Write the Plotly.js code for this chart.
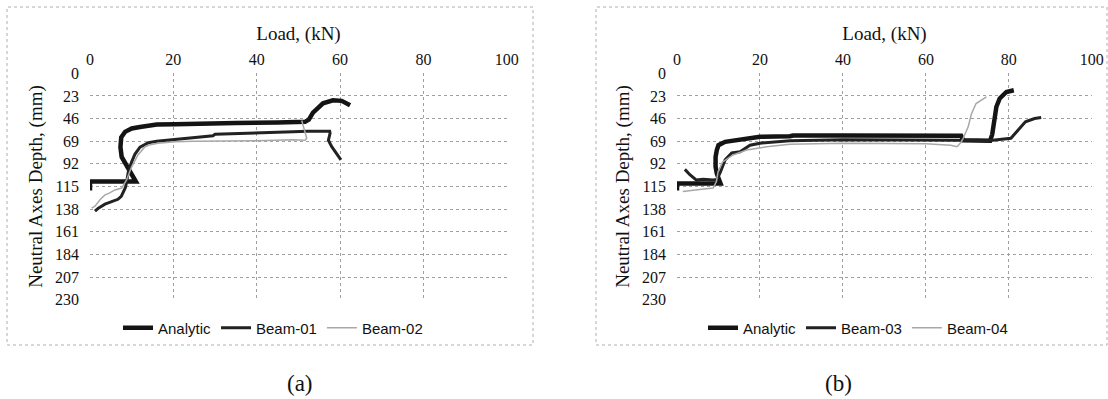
<!DOCTYPE html>
<html>
<head>
<meta charset="utf-8">
<script src="https://cdn.plot.ly/plotly-3.0.1.min.js"></script>
<style>html,body{margin:0;padding:0;background:#fff;}#chart{width:1108px;height:399px;}</style>
</head>
<body>
<div id="chart"></div>
<script>
// ---- data ----
const loadTicks = [0, 20, 40, 60, 80, 100];
const depthTicks = [0, 23, 46, 69, 92, 115, 138, 161, 184, 207, 230];

// panel (a)
const analyticA_load  = [0, 0, 11, 9.2, 8.4, 7.6, 7.3, 7.5, 8.4, 10, 12, 13.2, 13.9, 16, 20.4, 25, 35, 45, 50, 51.6, 52.5, 53.5, 55.9, 58.3, 60.4, 62.4];
const analyticA_depth = [119, 110, 110, 96, 92, 85, 75, 65, 59.5, 56, 54.5, 54, 52.7, 52, 51.7, 51, 50.5, 50, 49.5, 49.3, 47, 40, 30.5, 27.5, 28, 32.5];
const beam01_load  = [1.2, 2, 3.6, 5, 6.7, 7.5, 7.9, 8.5, 8.8, 9.2, 10, 10.8, 12, 13.2, 14, 16, 17.2, 20.4, 25.2, 29.5, 30, 35, 40.8, 45, 48.7, 52, 57.5, 57.6, 57.2, 58, 59.7, 60.2];
const beam01_depth = [140, 137, 133, 131, 128, 125, 122, 116, 110, 100, 90, 82, 75, 72, 70.5, 69, 68.5, 67, 65, 63.5, 62, 61.5, 60.5, 60, 59.5, 59, 59, 61, 68, 74.6, 85, 88];
const beam02_load  = [0.4, 1.2, 2.5, 3.6, 4.5, 6, 7.6, 8.8, 10, 11.5, 13.2, 14.5, 16.3, 20.4, 25, 32.8, 40, 48.7, 51.6, 52, 51.5, 51, 50.8];
const beam02_depth = [137, 135, 128, 123.5, 122, 118.5, 116.6, 108, 95, 83, 74.6, 72.5, 71, 69.5, 69, 69, 68.5, 67.5, 68, 66, 58, 52, 48];

// panel (b)
const analyticB_load  = [0, 0, 10.5, 9.6, 9.3, 9.3, 9.6, 10, 11.6, 14.4, 16.8, 20, 27.2, 28, 40, 55, 68.5, 69, 75.5, 76, 76.6, 77, 77.8, 79.4, 81.2];
const analyticB_depth = [119, 112, 112, 102, 95, 85, 78, 73, 69.6, 68, 66, 64.5, 64, 63.2, 63.2, 63.2, 63.5, 68, 68.5, 62, 47.6, 34, 25.6, 19, 17.2];
const beam03_load  = [1.9, 3.1, 4.7, 6.3, 8.7, 9.6, 10.4, 11.6, 13.2, 15.2, 16.4, 17.6, 20, 27.2, 40, 60, 68, 75, 80.5, 82.2, 84, 86.2, 87.8];
const beam03_depth = [97.6, 103, 108.5, 107.7, 108.5, 108, 101, 88, 81, 79.7, 76.3, 73, 71, 68.5, 67.5, 67.5, 68, 68.5, 66, 57.8, 49.3, 46, 45];
const beam04_load  = [1.4, 3, 4.7, 6.5, 8.7, 9.5, 9.9, 11, 13.5, 16.8, 21.6, 27.2, 40, 50, 60, 66, 67.5, 68.5, 69, 70.2, 71, 72.1, 73.5, 74.6];
const beam04_depth = [120, 119, 118.5, 117.5, 116.6, 110, 100, 90, 83, 78, 74.6, 72, 71, 71, 71.5, 73, 74.6, 70, 66, 54.4, 41, 30.7, 27, 24];

const seriesNames = ['Analytic', 'Beam-01', 'Beam-02', 'Beam-03', 'Beam-04'];

// ---- layout helpers (pixel -> paper) ----
const W = 1108, H = 399;
const px = v => v / W;
const py = v => 1 - v / H;

const black = '#141414', dark = '#222222', grey = '#a8a8a8';

const traces = [
  {x: analyticA_load, y: analyticA_depth, name: seriesNames[0], mode: 'lines', line: {color: black, width: 4.5}, xaxis: 'x', yaxis: 'y', legend: 'legend'},
  {x: beam01_load, y: beam01_depth, name: seriesNames[1], mode: 'lines', line: {color: dark, width: 3}, xaxis: 'x', yaxis: 'y', legend: 'legend'},
  {x: beam02_load, y: beam02_depth, name: seriesNames[2], mode: 'lines', line: {color: grey, width: 1.5}, xaxis: 'x', yaxis: 'y', legend: 'legend'},
  {x: analyticB_load, y: analyticB_depth, name: seriesNames[0], mode: 'lines', line: {color: black, width: 4.5}, xaxis: 'x2', yaxis: 'y2', legend: 'legend2'},
  {x: beam03_load, y: beam03_depth, name: seriesNames[3], mode: 'lines', line: {color: dark, width: 3}, xaxis: 'x2', yaxis: 'y2', legend: 'legend2'},
  {x: beam04_load, y: beam04_depth, name: seriesNames[4], mode: 'lines', line: {color: grey, width: 1.5}, xaxis: 'x2', yaxis: 'y2', legend: 'legend2'}
];

const serif = 'Liberation Serif, Times New Roman, serif';
const tickFont = {family: serif, size: 16, color: '#111'};
const titleFont = {family: serif, size: 19, color: '#111'};

function xAxis(dom, anchor) {
  return {
    domain: dom, anchor: anchor, side: 'top', range: [0, 100.05],
    tickmode: 'array', tickvals: loadTicks, ticktext: loadTicks.map(String),
    showgrid: true, gridcolor: '#a0a0a0', griddash: 'dot', gridwidth: 1,
    zeroline: false, showline: false, ticks: '', tickfont: tickFont,
    ticklabelstandoff: 4,
    title: {text: 'Load, (kN)', font: titleFont, standoff: 5},
    fixedrange: true
  };
}
function yAxis(anchor) {
  return {
    domain: [py(300), py(73)], anchor: anchor, range: [230.3, -0.3],
    tickmode: 'array', tickvals: depthTicks, ticktext: depthTicks.map(String),
    showgrid: true, gridcolor: '#a0a0a0', griddash: 'dot', gridwidth: 1,
    zeroline: false, showline: false, ticks: '', tickfont: tickFont,
    ticklabelstandoff: 10,
    title: {text: 'Neutral Axes Depth, (mm)', font: titleFont, standoff: 7},
    fixedrange: true
  };
}

const legendBase = {
  orientation: 'h', xanchor: 'center', yanchor: 'middle', y: py(328),
  font: {family: 'Liberation Sans, Arial, sans-serif', size: 15, color: '#111'},
  bgcolor: 'rgba(0,0,0,0)', itemwidth: 30, tracegroupgap: 0
};

const layout = {
  width: W, height: H,
  margin: {l: 0, r: 0, t: 0, b: 0},
  paper_bgcolor: '#ffffff', plot_bgcolor: '#ffffff',
  showlegend: true,
  xaxis: xAxis([px(90), px(507)], 'y'),
  yaxis: yAxis('x'),
  xaxis2: xAxis([px(677), px(1092)], 'y2'),
  yaxis2: yAxis('x2'),
  legend: Object.assign({}, legendBase, {x: px(273)}),
  legend2: Object.assign({}, legendBase, {x: px(858)}),
  shapes: [
    {type: 'rect', xref: 'paper', yref: 'paper', x0: px(7), x1: px(533), y0: py(345), y1: py(7), line: {color: '#b0b0b0', width: 1, dash: 'dot'}},
    {type: 'rect', xref: 'paper', yref: 'paper', x0: px(596), x1: px(1107), y0: py(345), y1: py(7), line: {color: '#b0b0b0', width: 1, dash: 'dot'}}
  ],
  annotations: [
    {text: '(a)', xref: 'paper', yref: 'paper', x: px(300), y: py(383), showarrow: false, xanchor: 'center', yanchor: 'middle', font: {family: serif, size: 23, color: '#111'}},
    {text: '(b)', xref: 'paper', yref: 'paper', x: px(838), y: py(383), showarrow: false, xanchor: 'center', yanchor: 'middle', font: {family: serif, size: 23, color: '#111'}}
  ]
};

Plotly.newPlot('chart', traces, layout, {displayModeBar: false, staticPlot: true});
</script>
</body>
</html>
